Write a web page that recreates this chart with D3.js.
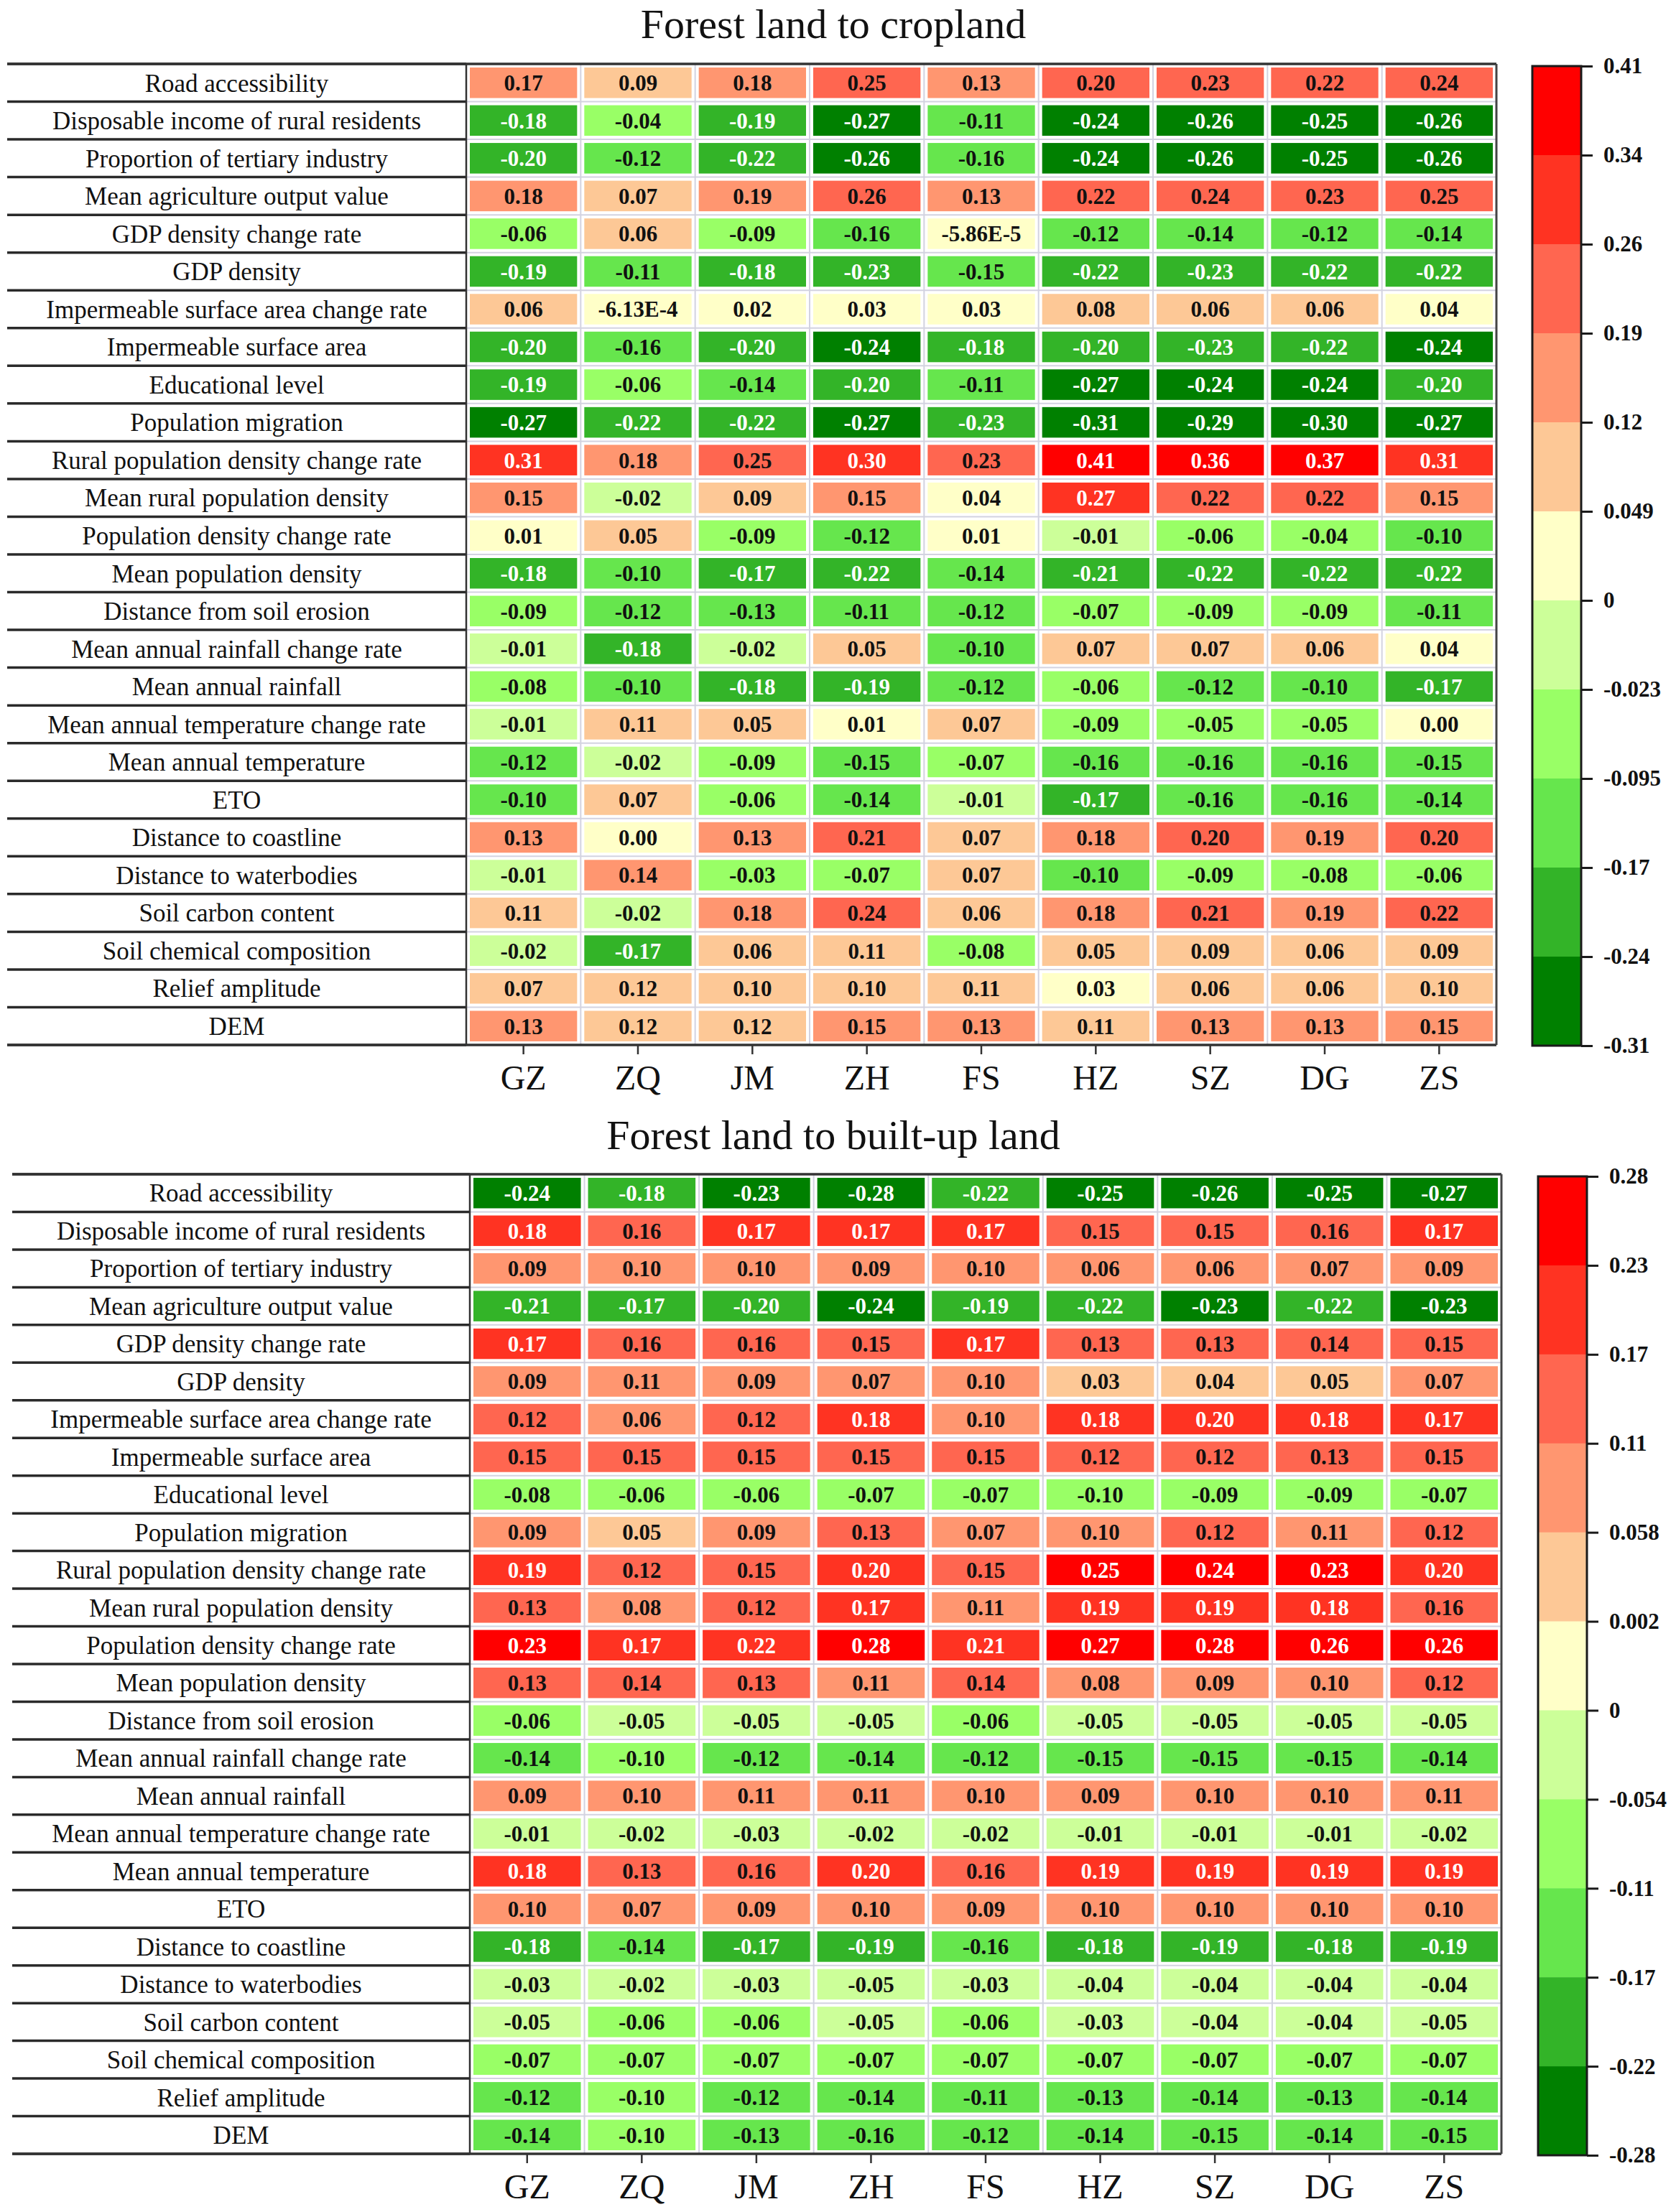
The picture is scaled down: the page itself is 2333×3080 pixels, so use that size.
<!DOCTYPE html>
<html lang="en">
<head>
  <meta charset="utf-8">
  <title>Forest land conversion drivers</title>
  <style>
    body {
      margin: 0;
      background: #ffffff;
    }
    svg text {
      font-family: "Liberation Serif", "Times New Roman", serif;
    }
  </style>
</head>
<body>
  <svg id="chart"></svg>
  <script src="https://cdn.jsdelivr.net/npm/d3@7"></script>
  <script>
    //
    // Data
    //

    var factors = [
      'Road accessibility',
      'Disposable income of rural residents',
      'Proportion of tertiary industry',
      'Mean agriculture output value',
      'GDP density change rate',
      'GDP density',
      'Impermeable surface area change rate',
      'Impermeable surface area',
      'Educational level',
      'Population migration',
      'Rural population density change rate',
      'Mean rural population density',
      'Population density change rate',
      'Mean population density',
      'Distance from soil erosion',
      'Mean annual rainfall change rate',
      'Mean annual rainfall',
      'Mean annual temperature change rate',
      'Mean annual temperature',
      'ETO',
      'Distance to coastline',
      'Distance to waterbodies',
      'Soil carbon content',
      'Soil chemical composition',
      'Relief amplitude',
      'DEM'
    ]

    var cities = ['GZ', 'ZQ', 'JM', 'ZH', 'FS', 'HZ', 'SZ', 'DG', 'ZS']

    // Forest land to cropland (rows follow factors, columns follow cities)
    var cropValues = [
      [0.17, 0.09, 0.18, 0.25, 0.13, 0.20, 0.23, 0.22, 0.24],
      [-0.18, -0.04, -0.19, -0.27, -0.11, -0.24, -0.26, -0.25, -0.26],
      [-0.20, -0.12, -0.22, -0.26, -0.16, -0.24, -0.26, -0.25, -0.26],
      [0.18, 0.07, 0.19, 0.26, 0.13, 0.22, 0.24, 0.23, 0.25],
      [-0.06, 0.06, -0.09, -0.16, -5.86e-5, -0.12, -0.14, -0.12, -0.14],
      [-0.19, -0.11, -0.18, -0.23, -0.15, -0.22, -0.23, -0.22, -0.22],
      [0.06, -6.13e-4, 0.02, 0.03, 0.03, 0.08, 0.06, 0.06, 0.04],
      [-0.20, -0.16, -0.20, -0.24, -0.18, -0.20, -0.23, -0.22, -0.24],
      [-0.19, -0.06, -0.14, -0.20, -0.11, -0.27, -0.24, -0.24, -0.20],
      [-0.27, -0.22, -0.22, -0.27, -0.23, -0.31, -0.29, -0.30, -0.27],
      [0.31, 0.18, 0.25, 0.30, 0.23, 0.41, 0.36, 0.37, 0.31],
      [0.15, -0.02, 0.09, 0.15, 0.04, 0.27, 0.22, 0.22, 0.15],
      [0.01, 0.05, -0.09, -0.12, 0.01, -0.01, -0.06, -0.04, -0.10],
      [-0.18, -0.10, -0.17, -0.22, -0.14, -0.21, -0.22, -0.22, -0.22],
      [-0.09, -0.12, -0.13, -0.11, -0.12, -0.07, -0.09, -0.09, -0.11],
      [-0.01, -0.18, -0.02, 0.05, -0.10, 0.07, 0.07, 0.06, 0.04],
      [-0.08, -0.10, -0.18, -0.19, -0.12, -0.06, -0.12, -0.10, -0.17],
      [-0.01, 0.11, 0.05, 0.01, 0.07, -0.09, -0.05, -0.05, 0.00],
      [-0.12, -0.02, -0.09, -0.15, -0.07, -0.16, -0.16, -0.16, -0.15],
      [-0.10, 0.07, -0.06, -0.14, -0.01, -0.17, -0.16, -0.16, -0.14],
      [0.13, 0.00, 0.13, 0.21, 0.07, 0.18, 0.20, 0.19, 0.20],
      [-0.01, 0.14, -0.03, -0.07, 0.07, -0.10, -0.09, -0.08, -0.06],
      [0.11, -0.02, 0.18, 0.24, 0.06, 0.18, 0.21, 0.19, 0.22],
      [-0.02, -0.17, 0.06, 0.11, -0.08, 0.05, 0.09, 0.06, 0.09],
      [0.07, 0.12, 0.10, 0.10, 0.11, 0.03, 0.06, 0.06, 0.10],
      [0.13, 0.12, 0.12, 0.15, 0.13, 0.11, 0.13, 0.13, 0.15]
    ]
    // labels that are not plain two-decimal numbers
    var cropSpecial = { '4,4': '-5.86E-5', '6,1': '-6.13E-4' }

    // Forest land to built-up land
    var builtValues = [
      [-0.24, -0.18, -0.23, -0.28, -0.22, -0.25, -0.26, -0.25, -0.27],
      [0.18, 0.16, 0.17, 0.17, 0.17, 0.15, 0.15, 0.16, 0.17],
      [0.09, 0.10, 0.10, 0.09, 0.10, 0.06, 0.06, 0.07, 0.09],
      [-0.21, -0.17, -0.20, -0.24, -0.19, -0.22, -0.23, -0.22, -0.23],
      [0.17, 0.16, 0.16, 0.15, 0.17, 0.13, 0.13, 0.14, 0.15],
      [0.09, 0.11, 0.09, 0.07, 0.10, 0.03, 0.04, 0.05, 0.07],
      [0.12, 0.06, 0.12, 0.18, 0.10, 0.18, 0.20, 0.18, 0.17],
      [0.15, 0.15, 0.15, 0.15, 0.15, 0.12, 0.12, 0.13, 0.15],
      [-0.08, -0.06, -0.06, -0.07, -0.07, -0.10, -0.09, -0.09, -0.07],
      [0.09, 0.05, 0.09, 0.13, 0.07, 0.10, 0.12, 0.11, 0.12],
      [0.19, 0.12, 0.15, 0.20, 0.15, 0.25, 0.24, 0.23, 0.20],
      [0.13, 0.08, 0.12, 0.17, 0.11, 0.19, 0.19, 0.18, 0.16],
      [0.23, 0.17, 0.22, 0.28, 0.21, 0.27, 0.28, 0.26, 0.26],
      [0.13, 0.14, 0.13, 0.11, 0.14, 0.08, 0.09, 0.10, 0.12],
      [-0.06, -0.05, -0.05, -0.05, -0.06, -0.05, -0.05, -0.05, -0.05],
      [-0.14, -0.10, -0.12, -0.14, -0.12, -0.15, -0.15, -0.15, -0.14],
      [0.09, 0.10, 0.11, 0.11, 0.10, 0.09, 0.10, 0.10, 0.11],
      [-0.01, -0.02, -0.03, -0.02, -0.02, -0.01, -0.01, -0.01, -0.02],
      [0.18, 0.13, 0.16, 0.20, 0.16, 0.19, 0.19, 0.19, 0.19],
      [0.10, 0.07, 0.09, 0.10, 0.09, 0.10, 0.10, 0.10, 0.10],
      [-0.18, -0.14, -0.17, -0.19, -0.16, -0.18, -0.19, -0.18, -0.19],
      [-0.03, -0.02, -0.03, -0.05, -0.03, -0.04, -0.04, -0.04, -0.04],
      [-0.05, -0.06, -0.06, -0.05, -0.06, -0.03, -0.04, -0.04, -0.05],
      [-0.07, -0.07, -0.07, -0.07, -0.07, -0.07, -0.07, -0.07, -0.07],
      [-0.12, -0.10, -0.12, -0.14, -0.11, -0.13, -0.14, -0.13, -0.14],
      [-0.14, -0.10, -0.13, -0.16, -0.12, -0.14, -0.15, -0.14, -0.15]
    ]

    // colour classes, lowest to highest
    var bandColors = [
      '#008000', '#33b428', '#66e64d', '#99ff66', '#ccff99',
      '#ffffc8', '#fdc896', '#ff9670', '#ff6650', '#ff3322', '#ff0000'
    ]

    // class breaks used to colour the cells
    var cropBreaks = [-0.235, -0.165, -0.095, -0.023, -0.001, 0.049, 0.121, 0.191, 0.261, 0.341]
    var builtBreaks = [-0.225, -0.165, -0.105, -0.054, -0.001, 0.002, 0.058, 0.111, 0.168, 0.225]

    // legend tick labels, top to bottom
    var cropTicks = ['0.41', '0.34', '0.26', '0.19', '0.12', '0.049', '0', '-0.023', '-0.095', '-0.17', '-0.24', '-0.31']
    var builtTicks = ['0.28', '0.23', '0.17', '0.11', '0.058', '0.002', '0', '-0.054', '-0.11', '-0.17', '-0.22', '-0.28']

    //
    // Drawing
    //

    var W = 2333, H = 3080
    var svg = d3.select('#chart').attr('width', W).attr('height', H)
    svg.append('rect').attr('width', W).attr('height', H).attr('fill', '#ffffff')

    function drawPanel(p) {
      var g = svg.append('g')
      var y = d3.scaleBand().domain(factors).range([p.top, p.bottom])
      var x = d3.scaleBand().domain(cities).range([p.divider, p.right])
      var color = d3.scaleThreshold().domain(p.breaks).range(bandColors)
      var dark = [bandColors[0], bandColors[1], bandColors[9], bandColors[10]]

      g.append('text')
        .attr('x', 1160).attr('y', p.titleY)
        .attr('text-anchor', 'middle')
        .attr('font-size', 58)
        .attr('fill', '#111')
        .text(p.title)

      // light grid behind cells
      var grid = g.append('g').attr('stroke', '#d3d3e0').attr('stroke-width', 2)
      cities.forEach(function(c) {
        grid.append('line')
          .attr('x1', x(c)).attr('x2', x(c))
          .attr('y1', p.top).attr('y2', p.bottom)
      })
      factors.forEach(function(f) {
        grid.append('line')
          .attr('x1', p.divider).attr('x2', p.right)
          .attr('y1', y(f)).attr('y2', y(f))
      })

      var cells = []
      p.values.forEach(function(row, i) {
        row.forEach(function(v, j) {
          var key = i + ',' + j
          var label = (p.special && p.special[key]) || v.toFixed(2)
          cells.push({ f: factors[i], c: cities[j], v: v, label: label })
        })
      })

      var inset = 5
      var cg = g.selectAll('g.cell').data(cells).join('g').attr('class', 'cell')
      cg.append('rect')
        .attr('x', function(d) { return x(d.c) + inset })
        .attr('y', function(d) { return y(d.f) + inset })
        .attr('width', x.bandwidth() - 2 * inset)
        .attr('height', y.bandwidth() - 2 * inset)
        .attr('fill', function(d) { return color(d.v) })
      cg.append('text')
        .attr('x', function(d) { return x(d.c) + x.bandwidth() / 2 })
        .attr('y', function(d) { return y(d.f) + y.bandwidth() / 2 })
        .attr('dy', '0.35em')
        .attr('text-anchor', 'middle')
        .attr('font-size', 31)
        .attr('font-weight', 'bold')
        .attr('fill', function(d) { return dark.indexOf(color(d.v)) >= 0 ? '#ffffff' : '#111111' })
        .text(function(d) { return d.label })

      // row labels and their rules
      g.selectAll('text.factor').data(factors).join('text')
        .attr('class', 'factor')
        .attr('x', (p.left + p.divider) / 2)
        .attr('y', function(d) { return y(d) + y.bandwidth() / 2 })
        .attr('dy', '0.35em')
        .attr('text-anchor', 'middle')
        .attr('font-size', 35)
        .attr('fill', '#111')
        .text(function(d) { return d })

      var rules = factors.map(function(f) { return y(f) }).concat([p.bottom])
      g.selectAll('line.rule').data(rules).join('line')
        .attr('class', 'rule')
        .attr('x1', p.left).attr('x2', p.divider)
        .attr('y1', function(d) { return d }).attr('y2', function(d) { return d })
        .attr('stroke', '#2a2a2a').attr('stroke-width', 3.5)

      // frame
      g.append('line').attr('x1', p.left).attr('x2', p.right).attr('y1', p.top).attr('y2', p.top)
        .attr('stroke', '#333').attr('stroke-width', 3.5)
      g.append('line').attr('x1', p.left).attr('x2', p.right).attr('y1', p.bottom).attr('y2', p.bottom)
        .attr('stroke', '#333').attr('stroke-width', 3.5)
      g.append('line').attr('x1', p.divider).attr('x2', p.divider).attr('y1', p.top).attr('y2', p.bottom)
        .attr('stroke', '#333').attr('stroke-width', 2.5)
      g.append('line').attr('x1', p.right).attr('x2', p.right).attr('y1', p.top).attr('y2', p.bottom)
        .attr('stroke', '#444').attr('stroke-width', 3)

      // city axis
      var ax = g.append('g')
        .attr('transform', 'translate(0,' + p.bottom + ')')
        .call(d3.axisBottom(x).tickSize(13).tickPadding(15))
      ax.select('.domain').remove()
      ax.selectAll('.tick line').attr('stroke', '#333').attr('stroke-width', 2.5)
      ax.selectAll('.tick text')
        .attr('font-size', 48)
        .attr('font-family', '"Liberation Serif", "Times New Roman", serif')
        .attr('fill', '#111')

      // legend
      var lg = svg.append('g')
      var ly = d3.scaleBand().domain(d3.range(bandColors.length)).range([p.legendTop, p.legendBottom])
      var topDown = bandColors.slice().reverse()
      lg.selectAll('rect').data(topDown).join('rect')
        .attr('x', p.legendX)
        .attr('y', function(d, i) { return ly(i) })
        .attr('width', 68)
        .attr('height', ly.bandwidth() + 0.5)
        .attr('fill', function(d) { return d })
      lg.append('rect')
        .attr('x', p.legendX).attr('y', p.legendTop)
        .attr('width', 68).attr('height', p.legendBottom - p.legendTop)
        .attr('fill', 'none').attr('stroke', '#1a1a1a').attr('stroke-width', 3)

      var ty = d3.scalePoint().domain(p.ticks).range([p.legendTop, p.legendBottom])
      var la = lg.append('g')
        .attr('transform', 'translate(' + (p.legendX + 68) + ',0)')
        .call(d3.axisRight(ty).tickSize(16).tickPadding(15))
      la.select('.domain').remove()
      la.selectAll('.tick line').attr('stroke', '#1a1a1a').attr('stroke-width', 3)
      la.selectAll('.tick text')
        .attr('font-size', 31)
        .attr('font-weight', 'bold')
        .attr('font-family', '"Liberation Serif", "Times New Roman", serif')
        .attr('fill', '#111')
    }

    drawPanel({
      title: 'Forest land to cropland',
      titleY: 53,
      values: cropValues,
      special: cropSpecial,
      breaks: cropBreaks,
      ticks: cropTicks,
      top: 89, bottom: 1455, left: 10, divider: 649, right: 2083,
      legendX: 2133, legendTop: 92, legendBottom: 1456
    })

    drawPanel({
      title: 'Forest land to built-up land',
      titleY: 1600,
      values: builtValues,
      breaks: builtBreaks,
      ticks: builtTicks,
      top: 1635, bottom: 2999, left: 17, divider: 654, right: 2090,
      legendX: 2141, legendTop: 1638, legendBottom: 3001
    })
  </script>
</body>
</html>
